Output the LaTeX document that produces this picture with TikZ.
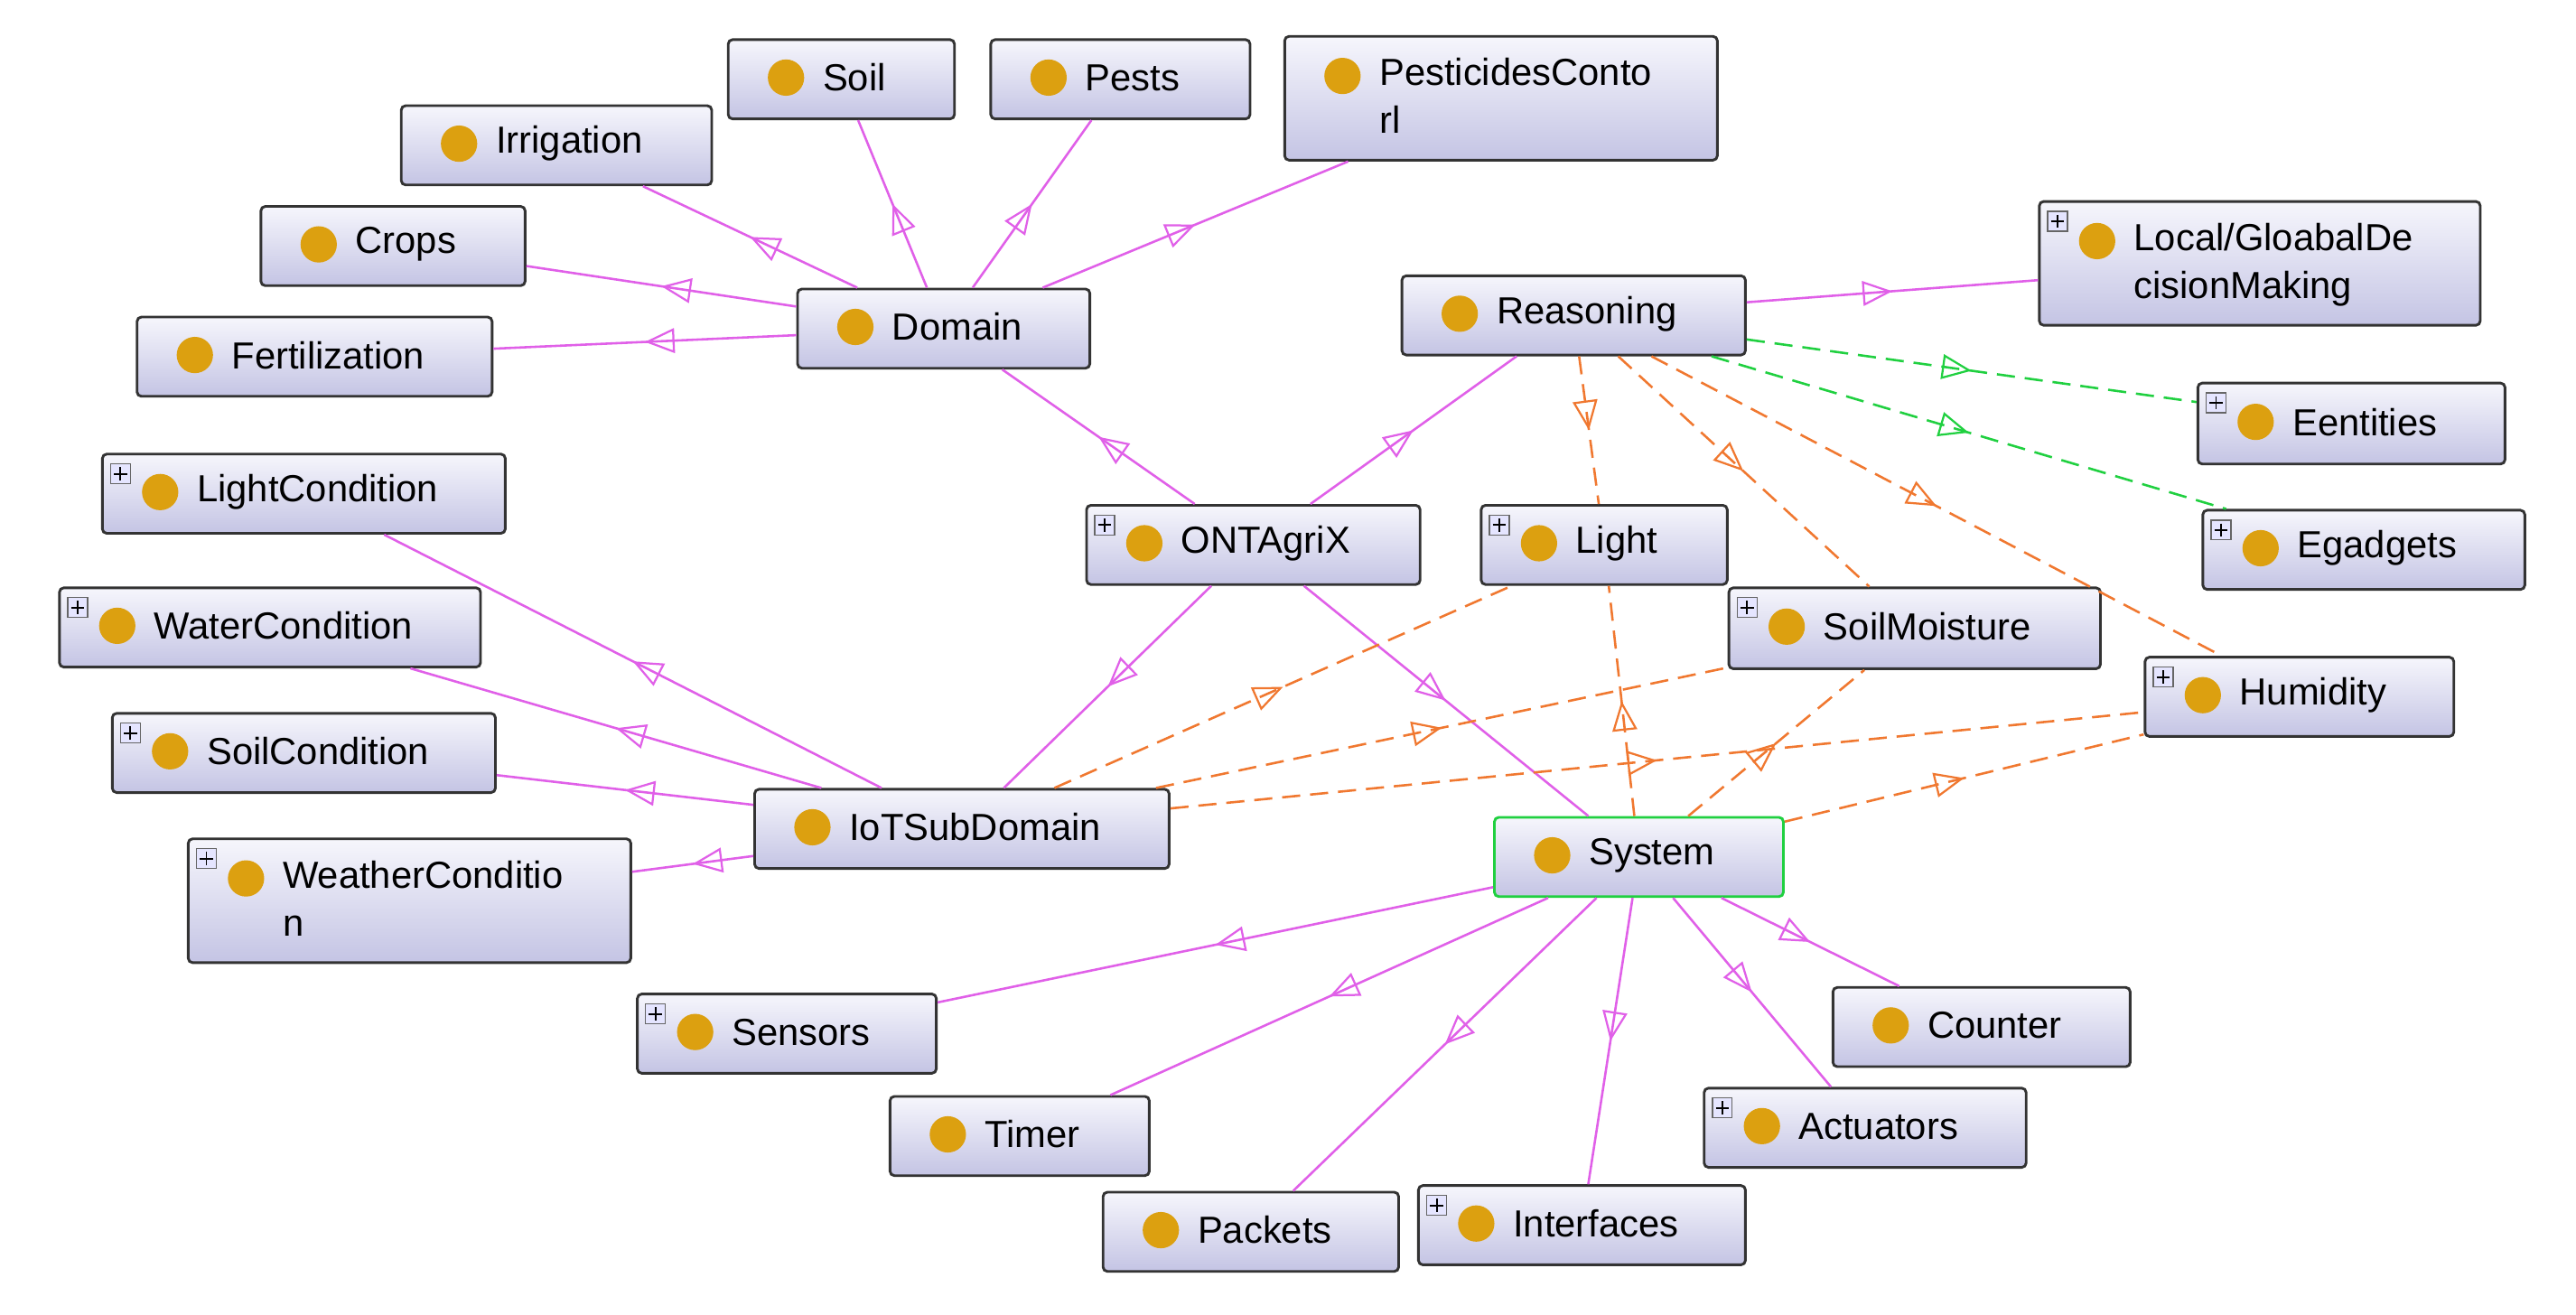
\documentclass[tikz,border=0pt]{standalone}
\usepackage{fontspec}
\setmainfont{Liberation Sans}
\usetikzlibrary{arrows.meta,decorations.markings}
\definecolor{dotc}{HTML}{DCA010}
\definecolor{mag}{HTML}{E060E8}
\definecolor{org}{HTML}{F07830}
\definecolor{grn}{HTML}{20D040}
\definecolor{boxtop}{HTML}{F6F6FC}
\definecolor{boxbot}{HTML}{C4C4E4}
\tikzset{
  box/.style={draw=black!80,line width=0.9pt,rounded corners=1.5pt,top color=boxtop,bottom color=boxbot,inner sep=0pt},
  lbl/.style={font=\fontsize{13}{16.5}\selectfont,inner sep=0pt,align=left},
  mid/.style={postaction={decorate},decoration={markings,mark=at position 0.5 with {\arrow{Triangle[open,length=0.36cm,width=0.3cm,line width=0.7pt]}}}},
  isa/.style={draw=mag,line width=0.8pt,mid},
  od/.style={draw=org,line width=0.8pt,dash pattern=on 0.22cm off 0.12cm,mid},
  gd/.style={draw=grn,line width=0.8pt,dash pattern=on 0.22cm off 0.12cm,mid},
}
% \cls{name}{x1}{y1}{x2}{y2}{text}{plus 0/1}{lines 1/2}{border colour}
\newcommand{\cls}[9]{%
  \pgfmathsetmacro{\cw}{(#4-#2)*0.02}%
  \pgfmathsetmacro{\ch}{(#5-#3)*0.02}%
  \pgfmathsetmacro{\cx}{(#2+#4)/2}%
  \pgfmathsetmacro{\cy}{(#3+#5)/2}%
  \pgfmathsetmacro{\dx}{#2+35}%
  \pgfmathsetmacro{\tx}{#2+57}%
  \ifnum#8=1 \pgfmathsetmacro{\dy}{\cy-1}\else\pgfmathsetmacro{\dy}{#3+24}\fi
  \node[box,draw=#9,minimum width=\cw cm,minimum height=\ch cm] (#1) at (\cx,\cy) {};
  \fill[dotc] (\dx,\dy) circle (0.22cm);
  \ifnum#8=1
    \node[lbl,anchor=west] (#1-t) at (\tx,\cy-1) {#6};
  \else
    \node[lbl,anchor=north west] (#1-t) at (\tx,#3+13) {#6};
  \fi
  \ifnum#7=1
    \pgfmathsetmacro{\px}{#2+11}\pgfmathsetmacro{\py}{#3+12}%
    \draw[draw=black!60,fill=blue!10,line width=0.4pt] (\px-6,\py-6) rectangle (\px+6,\py+6);
    \draw[line width=0.6pt] (\px-4,\py) -- (\px+4,\py) (\px,\py-4) -- (\px,\py+4);
  \fi
}
\begin{document}
\begin{tikzpicture}[x=0.02cm,y=-0.02cm]
\useasboundingbox (0,0) rectangle (1560,796);
\cls{soil}{441}{24}{578}{72}{Soil}{0}{1}{black!80}
\cls{pests}{600}{24}{757}{72}{Pests}{0}{1}{black!80}
\cls{pest}{778}{22}{1040}{97}{PesticidesConto\\rl}{0}{2}{black!80}
\cls{irr}{243}{64}{431}{112}{Irrigation}{0}{1}{black!80}
\cls{crops}{158}{125}{318}{173}{Crops}{0}{1}{black!80}
\cls{domain}{483}{175}{660}{223}{Domain}{0}{1}{black!80}
\cls{fert}{83}{192}{298}{240}{Fertilization}{0}{1}{black!80}
\cls{reas}{849}{167}{1057}{215}{Reasoning}{0}{1}{black!80}
\cls{local}{1235}{122}{1502}{197}{Local/GloabalDe\\cisionMaking}{1}{2}{black!80}
\cls{eent}{1331}{232}{1517}{281}{Eentities}{1}{1}{black!80}
\cls{egad}{1334}{309}{1529}{357}{Egadgets}{1}{1}{black!80}
\cls{lightc}{62}{275}{306}{323}{LightCondition}{1}{1}{black!80}
\cls{waterc}{36}{356}{291}{404}{WaterCondition}{1}{1}{black!80}
\cls{ont}{658}{306}{860}{354}{ONTAgriX}{1}{1}{black!80}
\cls{light}{897}{306}{1046}{354}{Light}{1}{1}{black!80}
\cls{sm}{1047}{356}{1272}{405}{SoilMoisture}{1}{1}{black!80}
\cls{hum}{1299}{398}{1486}{446}{Humidity}{1}{1}{black!80}
\cls{soilc}{68}{432}{300}{480}{SoilCondition}{1}{1}{black!80}
\cls{iot}{457}{478}{708}{526}{IoTSubDomain}{0}{1}{black!80}
\cls{weather}{114}{508}{382}{583}{WeatherConditio\\n}{1}{2}{black!80}
\cls{sys}{905}{495}{1080}{543}{System}{0}{1}{grn}
\cls{sens}{386}{602}{567}{650}{Sensors}{1}{1}{black!80}
\cls{count}{1110}{598}{1290}{646}{Counter}{0}{1}{black!80}
\cls{timer}{539}{664}{696}{712}{Timer}{0}{1}{black!80}
\cls{act}{1032}{659}{1227}{707}{Actuators}{1}{1}{black!80}
\cls{pack}{668}{722}{847}{770}{Packets}{0}{1}{black!80}
\cls{intf}{859}{718}{1057}{766}{Interfaces}{1}{1}{black!80}

\foreach \c in {soil,pests,pest,irr,crops,fert} \path[isa] (domain) -- (\c);
\foreach \c in {domain,reas,iot,sys} \path[isa] (ont) -- (\c);
\path[isa] (reas) -- (local);
\foreach \c in {lightc,waterc,soilc,weather} \path[isa] (iot) -- (\c);
\foreach \c in {sens,timer,pack,intf,act,count} \path[isa] (sys) -- (\c);
\path[gd] (reas) -- (eent);
\path[gd] (reas) -- (egad);
\foreach \c in {light,sm,hum} {\path[od] (reas) -- (\c); \path[od] (sys) -- (\c); \path[od] (iot) -- (\c);}
\end{tikzpicture}
\end{document}
